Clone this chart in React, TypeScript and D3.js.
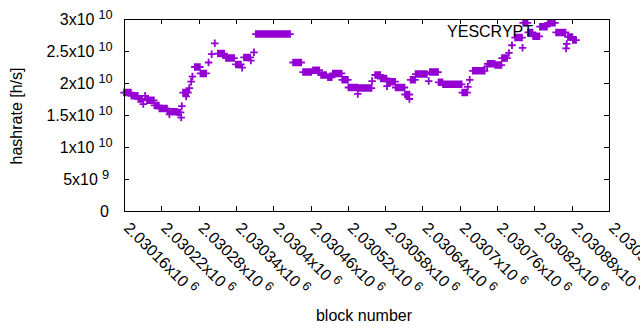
import * as d3 from 'd3';

const WIDTH = 640;
const HEIGHT = 330;
const MARGIN = { top: 19, right: 31, bottom: 119, left: 124 };
const COLOR = '#9400d3';
const FONT = '"Liberation Sans", Arial, sans-serif';
const TICK = 5;
const PLUS = 3.75;

// runs of blocks sharing the same hashrate
// (first block, last block, hashrate in h/s). single points have start == end.
const runStart = [
  2030160, 2030172, 2030183, 2030191, 2030194, 2030197, 2030209, 2030217, 2030230, 2030233,
  2030236, 2030246, 2030252, 2030253, 2030255, 2030260, 2030265, 2030268, 2030270, 2030274,
  2030283, 2030296, 2030301, 2030306, 2030311, 2030324, 2030340, 2030350, 2030353, 2030364,
  2030369, 2030372, 2030432, 2030448, 2030464, 2030477, 2030488, 2030496, 2030511, 2030521,
  2030536, 2030537, 2030559, 2030564, 2030573, 2030583, 2030585, 2030597, 2030612, 2030619,
  2030621, 2030629, 2030650, 2030652, 2030666, 2030673, 2030704, 2030713, 2030716, 2030721,
  2030744, 2030745, 2030757, 2030768, 2030779, 2030784, 2030789, 2030801, 2030802, 2030810,
  2030818, 2030829, 2030842, 2030855, 2030871, 2030872, 2030874, 2030882,
];
const runEnd = [
  2030171, 2030182, 2030189, 2030191, 2030194, 2030208, 2030216, 2030229, 2030232, 2030233,
  2030245, 2030251, 2030252, 2030253, 2030263, 2030260, 2030265, 2030268, 2030270, 2030282,
  2030292, 2030296, 2030301, 2030306, 2030321, 2030337, 2030348, 2030350, 2030363, 2030364,
  2030369, 2030427, 2030445, 2030461, 2030474, 2030485, 2030494, 2030510, 2030520, 2030535,
  2030536, 2030558, 2030559, 2030572, 2030582, 2030583, 2030596, 2030611, 2030619, 2030619,
  2030628, 2030647, 2030650, 2030665, 2030672, 2030703, 2030712, 2030713, 2030716, 2030740,
  2030744, 2030756, 2030767, 2030776, 2030779, 2030784, 2030800, 2030801, 2030809, 2030817,
  2030828, 2030840, 2030853, 2030870, 2030871, 2030872, 2030881, 2030887,
];
const runValue = [
  18.5e9, 18.0e9, 17.5e9, 16.7e9, 18.0e9, 17.3e9, 16.5e9, 16.0e9, 15.6e9, 15.1e9,
  15.5e9, 15.4e9, 14.6e9, 16.4e9, 18.5e9, 17.9e9, 19.2e9, 20.2e9, 21.0e9, 22.5e9,
  21.5e9, 23.2e9, 24.5e9, 26.2e9, 24.6e9, 23.9e9, 22.9e9, 22.4e9, 24.0e9, 23.5e9,
  24.8e9, 27.65e9, 23.2e9, 21.7e9, 22.0e9, 21.25e9, 20.9e9, 21.5e9, 20.5e9, 19.3e9,
  18.3e9, 19.2e9, 20.3e9, 21.25e9, 20.7e9, 19.5e9, 20.2e9, 19.3e9, 18.2e9, 17.5e9,
  20.5e9, 21.4e9, 20.3e9, 21.7e9, 20.1e9, 19.8e9, 18.5e9, 19.4e9, 20.5e9, 21.9e9,
  22.6e9, 23.0e9, 22.8e9, 23.9e9, 24.7e9, 25.9e9, 27.1e9, 25.5e9, 29.4e9, 27.9e9,
  27.3e9, 28.8e9, 29.4e9, 27.9e9, 25.4e9, 26.1e9, 27.2e9, 26.7e9,
];

const xTicks = [
  2030160, 2030220, 2030280, 2030340, 2030400, 2030460, 2030520,
  2030580, 2030640, 2030700, 2030760, 2030820, 2030880, 2030940,
];
const xTickLabels = [
  '2.03016', '2.03022', '2.03028', '2.03034', '2.0304', '2.03046', '2.03052',
  '2.03058', '2.03064', '2.0307', '2.03076', '2.03082', '2.03088', '2.03094',
];
const yTicks = [0, 5e9, 1e10, 1.5e10, 2e10, 2.5e10, 3e10];
const yTickMantissa = ['0', '5', '1', '1.5', '2', '2.5', '3'];
const yTickExponent = ['', '9', '10', '10', '10', '10', '10'];

export default function App() {
  const left = MARGIN.left;
  const right = WIDTH - MARGIN.right;
  const top = MARGIN.top;
  const bottom = HEIGHT - MARGIN.bottom;

  const xScale = d3.scaleLinear().domain([2030160, 2030940]).range([left, right]);
  const yScale = d3.scaleLinear().domain([0, 3e10]).range([bottom, top]);

  // one "+" per block
  const path = d3.path();
  runStart.forEach((start, i) => {
    const y = yScale(runValue[i]);
    d3.range(start, runEnd[i] + 1).forEach((b) => {
      const x = xScale(b);
      path.moveTo(x - PLUS, y);
      path.lineTo(x + PLUS, y);
      path.moveTo(x, y - PLUS);
      path.lineTo(x, y + PLUS);
    });
  });

  return (
    <svg
      width={WIDTH}
      height={HEIGHT}
      style={{ position: 'absolute', left: 0, top: 0, background: '#fff' }}
      fontFamily={FONT}
    >
      {/* ticks, mirrored on all sides */}
      <g stroke="#000" strokeWidth={1}>
        {yTicks.map((t, i) => {
          const y = Math.round(yScale(t)) + 0.5;
          return (
            <g key={i}>
              <line x1={left} x2={left + TICK} y1={y} y2={y} />
              <line x1={right - TICK} x2={right} y1={y} y2={y} />
            </g>
          );
        })}
        {xTicks.map((t, i) => {
          const x = Math.round(xScale(t)) + 0.5;
          return (
            <g key={i}>
              <line x1={x} x2={x} y1={bottom} y2={bottom - TICK} />
              <line x1={x} x2={x} y1={top} y2={top + TICK} />
            </g>
          );
        })}
      </g>

      {yTicks.map((t, i) => (
        <text
          key={i}
          x={109 + (yTickExponent[i].length > 1 ? 3.7 : 0)}
          y={yScale(t) + 5.5}
          textAnchor="end"
          fontSize={16}
          fill="#000"
        >
          {yTickExponent[i] ? (
            <>
              {yTickMantissa[i]}x10
              <tspan dx={4} dy={-6} fontSize={12.8}>
                {yTickExponent[i]}
              </tspan>
            </>
          ) : (
            yTickMantissa[i]
          )}
        </text>
      ))}

      {xTicks.map((t, i) => {
        const x = xScale(t) - 1;
        return (
          <text
            key={i}
            transform={`translate(${x},229) rotate(45)`}
            fontSize={16}
            fill="#000"
          >
            {xTickLabels[i]}x10
            <tspan dx={4} dy={-6} fontSize={12.8}>
              6
            </tspan>
          </text>
        );
      })}

      <path d={path.toString()} stroke={COLOR} strokeWidth={1.8} fill="none" />

      <rect
        x={left + 0.5}
        y={top + 0.5}
        width={right - left}
        height={bottom - top}
        fill="none"
        stroke="#000"
        strokeWidth={1}
      />

      <text x={533} y={37} textAnchor="end" fontSize={16} fill="#000">
        YESCRYPT
      </text>

      <text
        transform="translate(22,116) rotate(-90)"
        textAnchor="middle"
        fontSize={16}
        fill="#000"
      >
        hashrate [h/s]
      </text>
      <text x={364} y={321} textAnchor="middle" fontSize={16} fill="#000">
        block number
      </text>
    </svg>
  );
}
